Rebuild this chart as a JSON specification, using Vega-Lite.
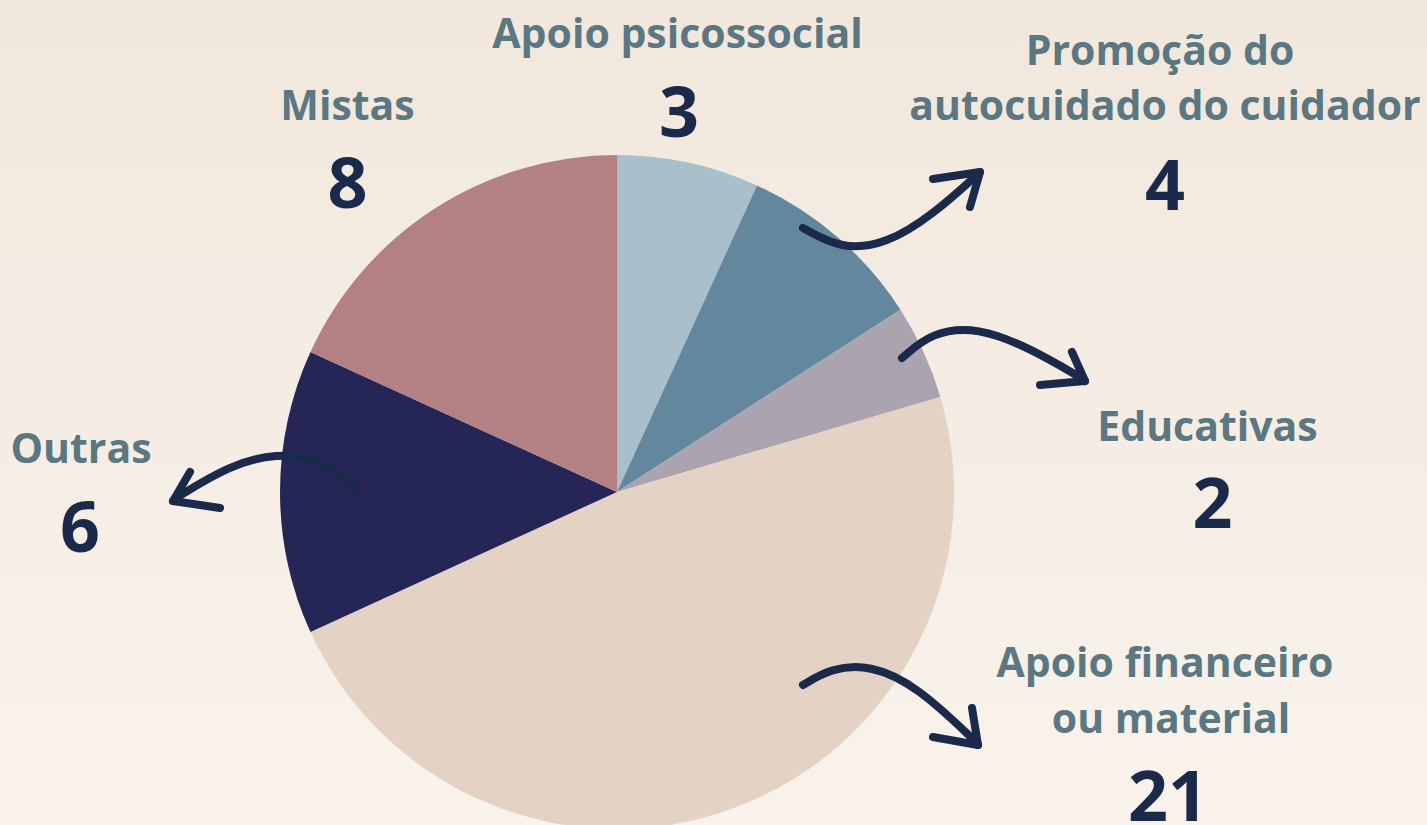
{
  "$schema": "https://vega.github.io/schema/vega-lite/v6.json",
  "width": 1427,
  "height": 825,
  "padding": 0,
  "autosize": {"type": "none"},
  "background": "#F5ECE3",
  "config": {
    "view": {
      "stroke": null,
      "fill": {"gradient": "linear", "x1": 0, "y1": 0, "x2": 0, "y2": 1, "stops": [{"offset": 0, "color": "#F1E7DC"}, {"offset": 1, "color": "#F9F3EC"}]}
    },
    "font": "Open Sans"
  },
  "datasets": {
    "slices": [
      {"categoria": "Apoio psicossocial", "n": 3, "ord": 1},
      {"categoria": "Promoção do autocuidado do cuidador", "n": 4, "ord": 2},
      {"categoria": "Educativas", "n": 2, "ord": 3},
      {"categoria": "Apoio financeiro ou material", "n": 21, "ord": 4},
      {"categoria": "Outras", "n": 6, "ord": 5},
      {"categoria": "Mistas", "n": 8, "ord": 6}
    ],
    "labels": [
      {"text": "Apoio psicossocial", "role": "label", "x": 17.95, "y": 131.75},
      {"text": "3", "role": "number", "x": 18.4, "y": 105.34},
      {"text": "Promoção do", "role": "label", "x": 161.13, "y": 126.71},
      {"text": "autocuidado do cuidador", "role": "label", "x": 162.61, "y": 110.39},
      {"text": "4", "role": "number", "x": 162.61, "y": 83.68},
      {"text": "Educativas", "role": "label", "x": 175.22, "y": 15.13},
      {"text": "2", "role": "number", "x": 176.71, "y": -10.68},
      {"text": "Apoio financeiro", "role": "label", "x": 162.61, "y": -54.9},
      {"text": "ou material", "role": "label", "x": 164.39, "y": -71.51},
      {"text": "21", "role": "number", "x": 163.5, "y": -97.63},
      {"text": "Outras", "role": "label", "x": -159.05, "y": 8.61},
      {"text": "6", "role": "number", "x": -159.35, "y": -17.8},
      {"text": "Mistas", "role": "label", "x": -79.97, "y": 110.39},
      {"text": "8", "role": "number", "x": -79.97, "y": 84.27}
    ],
    "arrows": [
      {"path": "a1", "i": 1, "x": 55.19, "y": 78.34},
      {"path": "a1", "i": 2, "x": 66.5, "y": 72.0},
      {"path": "a1", "i": 3, "x": 80.0, "y": 73.5},
      {"path": "a1", "i": 4, "x": 94.0, "y": 82.5},
      {"path": "a1", "i": 5, "x": 107.12, "y": 94.36},
      {"path": "a1h1", "i": 1, "x": 93.77, "y": 92.88},
      {"path": "a1h1", "i": 2, "x": 107.72, "y": 94.96},
      {"path": "a1h2", "i": 1, "x": 104.75, "y": 84.57},
      {"path": "a1h2", "i": 2, "x": 107.72, "y": 94.96},
      {"path": "a2", "i": 1, "x": 84.57, "y": 39.76},
      {"path": "a2", "i": 2, "x": 93.5, "y": 47.5},
      {"path": "a2", "i": 3, "x": 107.0, "y": 49.0},
      {"path": "a2", "i": 4, "x": 123.0, "y": 42.5},
      {"path": "a2", "i": 5, "x": 138.28, "y": 33.53},
      {"path": "a2h1", "i": 1, "x": 125.52, "y": 31.75},
      {"path": "a2h1", "i": 2, "x": 138.87, "y": 32.94},
      {"path": "a2h2", "i": 1, "x": 135.01, "y": 41.54},
      {"path": "a2h2", "i": 2, "x": 138.87, "y": 32.94},
      {"path": "a3", "i": 1, "x": -76.85, "y": 0.59},
      {"path": "a3", "i": 2, "x": -88.0, "y": 10.0},
      {"path": "a3", "i": 3, "x": -101.0, "y": 11.5},
      {"path": "a3", "i": 4, "x": -115.0, "y": 8.0},
      {"path": "a3", "i": 5, "x": -130.86, "y": -1.78},
      {"path": "a3h1", "i": 1, "x": -126.71, "y": 5.93},
      {"path": "a3h1", "i": 2, "x": -131.75, "y": -2.67},
      {"path": "a3h2", "i": 1, "x": -117.8, "y": -4.75},
      {"path": "a3h2", "i": 2, "x": -131.75, "y": -2.67},
      {"path": "a4", "i": 1, "x": 55.19, "y": -57.27},
      {"path": "a4", "i": 2, "x": 63.5, "y": -52.3},
      {"path": "a4", "i": 3, "x": 75.0, "y": -51.2},
      {"path": "a4", "i": 4, "x": 89.0, "y": -57.5},
      {"path": "a4", "i": 5, "x": 106.53, "y": -74.18},
      {"path": "a4h1", "i": 1, "x": 93.77, "y": -72.7},
      {"path": "a4h1", "i": 2, "x": 107.12, "y": -75.07},
      {"path": "a4h2", "i": 1, "x": 105.34, "y": -64.09},
      {"path": "a4h2", "i": 2, "x": 107.12, "y": -75.07}
    ]
  },
  "resolve": {"scale": {"x": "shared", "y": "shared"}},
  "layer": [
    {
      "data": {"name": "slices"},
      "mark": {"type": "arc", "outerRadius": 337},
      "encoding": {
        "x": {"datum": 0, "type": "quantitative", "scale": {"domain": [-183.09, 240.36], "nice": false, "zero": false}, "axis": null},
        "y": {"datum": 0, "type": "quantitative", "scale": {"domain": [-98.81, 145.99], "nice": false, "zero": false}, "axis": null},
        "theta": {"field": "n", "type": "quantitative", "stack": true},
        "order": {"field": "ord", "type": "quantitative"},
        "color": {
          "field": "categoria",
          "type": "nominal",
          "scale": {
            "domain": ["Apoio psicossocial", "Promoção do autocuidado do cuidador", "Educativas", "Apoio financeiro ou material", "Outras", "Mistas"],
            "range": ["#A9BFCA", "#63879D", "#A9A4AF", "#E4D3C5", "#252556", "#B38084"]
          },
          "legend": null
        }
      }
    },
    {
      "data": {"name": "arrows"},
      "mark": {"type": "line", "interpolate": "basis", "stroke": "#1B2A4B", "strokeWidth": 8, "strokeCap": "round", "strokeJoin": "round"},
      "encoding": {
        "x": {"field": "x", "type": "quantitative", "axis": null},
        "y": {"field": "y", "type": "quantitative", "axis": null},
        "detail": {"field": "path", "type": "nominal"},
        "order": {"field": "i", "type": "quantitative"}
      }
    },
    {
      "data": {"name": "labels"},
      "transform": [{"filter": "datum.role === 'label'"}],
      "mark": {"type": "text", "font": "Open Sans", "fontWeight": "bold", "fontSize": 41, "color": "#5B7782", "align": "center", "baseline": "alphabetic"},
      "encoding": {
        "x": {"field": "x", "type": "quantitative", "axis": null},
        "y": {"field": "y", "type": "quantitative", "axis": null},
        "text": {"field": "text", "type": "nominal"}
      }
    },
    {
      "data": {"name": "labels"},
      "transform": [{"filter": "datum.role === 'number'"}],
      "mark": {"type": "text", "font": "Open Sans", "fontWeight": "bold", "fontSize": 70, "color": "#1B2A4B", "align": "center", "baseline": "alphabetic"},
      "encoding": {
        "x": {"field": "x", "type": "quantitative", "axis": null},
        "y": {"field": "y", "type": "quantitative", "axis": null},
        "text": {"field": "text", "type": "nominal"}
      }
    }
  ]
}
